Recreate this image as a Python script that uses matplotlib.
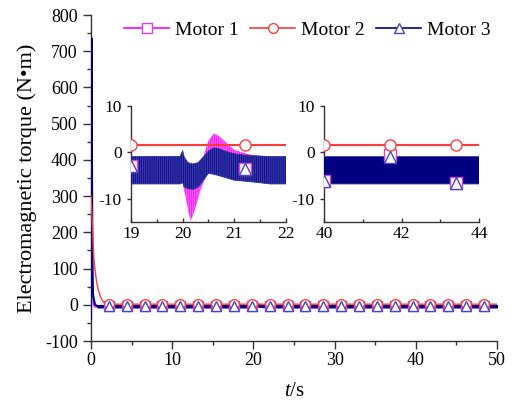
import matplotlib
matplotlib.use("Agg")
import matplotlib.pyplot as plt
from matplotlib.lines import Line2D
from matplotlib.ticker import MultipleLocator

plt.rcParams['font.family'] = ['Liberation Serif', 'DejaVu Serif']
plt.rcParams['axes.unicode_minus'] = False
plt.rcParams['mathtext.fontset'] = 'custom'
plt.rcParams['mathtext.rm'] = 'Liberation Serif'
plt.rcParams['mathtext.it'] = 'Liberation Serif:italic'

# ---------------- data ----------------
labels = ["Motor 1", "Motor 2", "Motor 3"]
colors = ["#FF00FF", "#FF3B3B", "#000080"]
marker_edge = ["#E040E0", "#FF4040", "#4848C0"]
markers = ["s", "o", "^"]

# start-up transients (main plot)
t_tr1 = [0.0, 0.03, 0.06, 0.1, 0.15, 0.2, 0.3, 0.5, 1.0, 2.0]
y_tr1 = [-40, 450, 700, 450, 200, 50, 0, -6, -6, -4]
t_tr2 = [0.0, 0.05, 0.1, 0.16, 0.25, 0.35, 0.49, 0.7, 0.9, 1.2, 1.5, 1.8, 2.2, 50.0]
y_tr2 = [300, 280, 255, 226, 170, 130, 96, 62, 41, 20, 8, 3, 1.6, 1.6]
t_tr3 = [0.0, 0.03, 0.06, 0.1, 0.15, 0.2, 0.25, 0.35, 0.5, 0.8, 2.0]
y_tr3 = [-40, 500, 736, 500, 250, 80, 30, 15, 0, -3.8, -3.8]

# steady-state ripple envelopes (upper / lower)
t_env1 = [0.8, 20.0, 20.05, 20.1, 20.15, 20.2, 20.27, 20.33, 20.4, 20.5, 20.6,
          20.7, 20.85, 21.0, 21.3, 21.7, 50.0]
up1 = [-1.0, -1.0, -2.0, -4.0, -5.0, -4.0, -3.0, -2.0, -1.0, 2.5, 4.0,
       3.5, 2.0, 0.5, -0.5, -1.0, -1.0]
lo1 = [-6.6, -6.6, -9.0, -12.0, -14.7, -13.5, -11.0, -8.5, -6.5, -4.0, -3.5,
       -3.5, -4.5, -5.5, -6.0, -6.6, -6.6]
t_env3 = [0.8, 19.95, 20.0, 20.03, 20.1, 20.2, 20.3, 20.4, 20.5, 20.6, 20.7,
          20.85, 21.0, 21.3, 21.7, 50.0]
up3 = [-0.9, -0.9, 0.4, -1.0, -2.2, -2.5, -2.2, -1.0, 0.3, 1.0, 0.8,
       0.2, -0.3, -0.7, -0.9, -0.9]
lo3 = [-6.8, -6.8, -6.5, -7.5, -7.8, -8.0, -7.5, -6.0, -4.5, -4.7, -5.0,
       -5.5, -6.0, -6.3, -6.8, -6.8]

# marker positions
mk_t_main = [2.2, 4.4, 6.6, 8.8, 11.0, 13.2, 15.4, 17.6, 19.8, 22.0, 24.2,
             26.4, 28.6, 30.8, 33.0, 35.2, 37.4, 39.6, 41.8, 44.0, 46.2, 48.4]
mk_y_main = [-4.5, 1.6, -3.5]
mk_t_in1 = [19.0, 21.2]
mk_y_in1 = [[-3.0, -3.5], [1.6, 1.6], [-3.0, -3.5]]
mk_t_in2 = [40.0, 41.7, 43.4]
mk_y_in2 = [[-6.1, -0.5, -6.5], [1.6, 1.6, 1.6], [-6.1, -0.9, -6.5]]

# ---------------- figure ----------------
fig = plt.figure(figsize=(5.14, 4.01), dpi=100)
ax = fig.add_axes([91/514, 1-341/401, 406/514, 326/401])

def style(a, fs, xdir='out', ydir='out', maj=6, mn=3):
    for s in ['top', 'right']:
        a.spines[s].set_visible(False)
    for s in ['left', 'bottom']:
        a.spines[s].set_linewidth(1.0)
        a.spines[s].set_color('#333333')
    a.tick_params(axis='x', which='both', direction=xdir, labelsize=fs, width=1.0, color='#333333')
    a.tick_params(axis='y', which='both', direction=ydir, labelsize=fs, width=1.0, color='#333333')
    a.tick_params(which='major', length=maj)
    a.tick_params(which='minor', length=mn)

# main plot
ax.fill_between(t_env1, lo1, up1, color=colors[0], lw=0.8, zorder=2)
ax.plot(t_tr1, y_tr1, color=colors[0], lw=1.0, zorder=2)
ax.plot(t_tr2, y_tr2, color=colors[1], lw=1.0, zorder=4)
ax.fill_between(t_env3, lo3, up3, color=colors[2], lw=1.0, zorder=3)
ax.plot(t_tr3, y_tr3, color=colors[2], lw=1.5, zorder=3)
for i in range(3):
    ax.plot(mk_t_main, [mk_y_main[i]]*len(mk_t_main), ls='none', marker=markers[i],
            ms=7, mfc='white', mec=marker_edge[i], mew=1.0, zorder=5 + (i == 2))
ax.set_xlim(0, 50)
ax.set_ylim(-100, 800)
ax.xaxis.set_major_locator(MultipleLocator(10))
ax.xaxis.set_minor_locator(MultipleLocator(5))
ax.yaxis.set_major_locator(MultipleLocator(100))
ax.yaxis.set_minor_locator(MultipleLocator(50))
style(ax, 13, maj=6, mn=3)
ax.tick_params(axis='x', pad=2)
ax.set_xlabel(r"$t$/s", fontsize=15, labelpad=9)
ax.set_ylabel("Electromagnetic torque (N\u2022m)", fontsize=16, labelpad=6)

# insets
def inset(rect, xlim, xmaj, xmin_, mk_t, mk_y, hatch):
    a = fig.add_axes(rect)
    a.set_facecolor('white')
    a.fill_between(t_env1, lo1, up1, facecolor=colors[0], edgecolor='#FF60FF',
                   hatch=hatch, lw=0, zorder=2)
    a.plot(t_tr2, y_tr2, color=colors[1], lw=1.5, zorder=4)
    a.fill_between(t_env3, lo3, up3, facecolor=colors[2], edgecolor='#3838A8',
                   hatch=hatch, lw=0.6, zorder=3)
    for i in range(3):
        a.plot(mk_t, mk_y[i], ls='none', marker=markers[i], ms=8, mfc='white',
               mec=marker_edge[i], mew=1.0, zorder=5 + (i == 2))
    a.set_xlim(*xlim)
    a.set_ylim(-15, 10)
    a.xaxis.set_major_locator(MultipleLocator(xmaj))
    a.xaxis.set_minor_locator(MultipleLocator(xmin_))
    a.yaxis.set_major_locator(MultipleLocator(10))
    style(a, 12.5, xdir='in', ydir='out', maj=3, mn=2)
    a.tick_params(axis='x', pad=3)
    return a

inset([131/514, 1-222/401, 155/514, 116/401], (19, 22), 1, 0.5, mk_t_in1, mk_y_in1,
      '||||||||')
inset([324/514, 1-222/401, 155/514, 116/401], (40, 44), 2, 1, mk_t_in2, mk_y_in2, None)

handles = [Line2D([], [], color=colors[i], lw=1.2, marker=markers[i], ms=7,
                  mfc='white', mec=marker_edge[i], mew=1.0) for i in range(3)]
fig.legend(handles, labels, loc='center', bbox_to_anchor=(0.598, 0.925), ncol=3,
           frameon=False, fontsize=14, handlelength=2.3, handletextpad=0.3,
           columnspacing=0.6, numpoints=1)

fig.savefig("out.png", dpi=100)
